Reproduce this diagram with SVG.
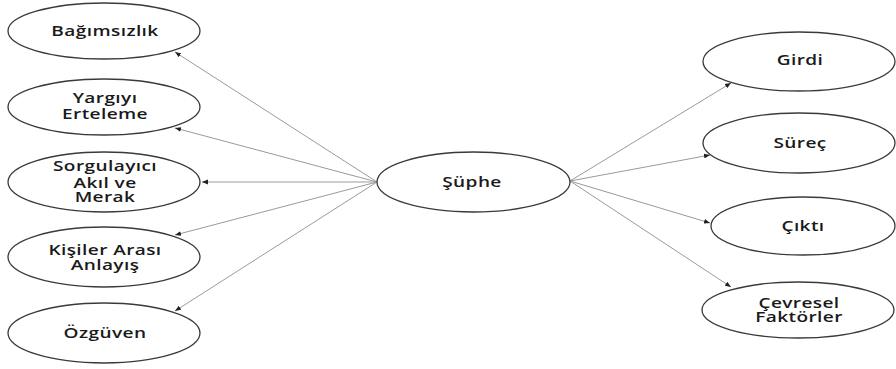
<svg xmlns="http://www.w3.org/2000/svg" width="896" height="369" viewBox="0 0 896 369">
<defs>
<style>
.node ellipse{fill:#fff;stroke:#3a3a3a;stroke-width:1.3}
.node text{font-family:"Open Sans","Noto Sans",sans-serif;font-size:14px;font-weight:600;fill:#1a1a1a;text-anchor:middle;letter-spacing:0.3px}
.edges line{stroke:#9a9a9a;stroke-width:1;marker-end:url(#arr)}
</style>
<marker id="arr" viewBox="0 0 10 10" refX="10" refY="5" markerWidth="6" markerHeight="6" orient="auto" markerUnits="userSpaceOnUse">
<path d="M0,1 L10,5 L0,9 z" fill="#222"/>
</marker>
</defs>
<rect width="896" height="369" fill="#fff"/>
<g class="edges">
<line x1="377" y1="182" x2="175" y2="52"/>
<line x1="377" y1="182" x2="175" y2="128"/>
<line x1="377" y1="182" x2="202" y2="182"/>
<line x1="377" y1="182" x2="175" y2="235"/>
<line x1="377" y1="182" x2="175" y2="311"/>
<line x1="570" y1="181" x2="731" y2="83"/>
<line x1="570" y1="181" x2="710" y2="155"/>
<line x1="570" y1="181" x2="710" y2="223"/>
<line x1="570" y1="181" x2="731" y2="287"/>
</g>
<g id="bagimsizlik" class="node"><ellipse cx="104" cy="31" rx="96" ry="28"/><text transform="translate(105,35.5) scale(1.36,1)">Bağımsızlık</text></g>
<g id="yargiyi" class="node"><ellipse cx="104" cy="107" rx="96" ry="28"/><text transform="translate(105,103) scale(1.36,1)">Yargıyı</text><text transform="translate(105,119) scale(1.36,1)">Erteleme</text></g>
<g id="sorgulayici" class="node"><ellipse cx="104" cy="182" rx="96" ry="30"/><text transform="translate(105,171) scale(1.36,1)">Sorgulayıcı</text><text transform="translate(105,187.5) scale(1.36,1)">Akıl ve</text><text transform="translate(105,202) scale(1.36,1)">Merak</text></g>
<g id="kisiler" class="node"><ellipse cx="104" cy="257" rx="96" ry="30"/><text transform="translate(105,255) scale(1.36,1)">Kişiler Arası</text><text transform="translate(105,270) scale(1.36,1)">Anlayış</text></g>
<g id="ozguven" class="node"><ellipse cx="104" cy="333" rx="96" ry="30"/><text transform="translate(105,338) scale(1.36,1)">Özgüven</text></g>
<g id="suphe" class="node"><ellipse cx="473.5" cy="182" rx="96.5" ry="30"/><text transform="translate(472,187) scale(1.36,1)">Şüphe</text></g>
<g id="girdi" class="node"><ellipse cx="799" cy="61.5" rx="96" ry="29.5"/><text transform="translate(800,65) scale(1.36,1)">Girdi</text></g>
<g id="surec" class="node"><ellipse cx="799" cy="143" rx="96" ry="30"/><text transform="translate(800,148) scale(1.36,1)">Süreç</text></g>
<g id="cikti" class="node"><ellipse cx="803" cy="226" rx="92" ry="29"/><text transform="translate(803,231) scale(1.36,1)">Çıktı</text></g>
<g id="cevresel" class="node"><ellipse cx="798" cy="310" rx="96" ry="28"/><text transform="translate(799,307.5) scale(1.36,1)">Çevresel</text><text transform="translate(799,322) scale(1.36,1)">Faktörler</text></g>
</svg>
